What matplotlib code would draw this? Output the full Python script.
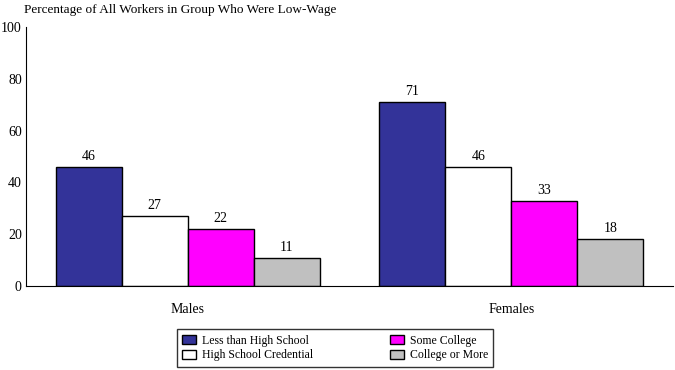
import matplotlib.pyplot as plt
import numpy as np
from matplotlib.patches import Patch

groups = ['Males', 'Females']
series = ['Less than High School', 'High School Credential', 'Some College', 'College or More']
values = [[46, 71], [27, 46], [22, 33], [11, 18]]
colors = ['#333399', '#FFFFFF', '#FF00FF', '#C0C0C0']

plt.rcParams['font.family'] = ['Liberation Serif', 'DejaVu Serif']
plt.rcParams['font.size'] = 9.5

fig = plt.figure(figsize=(6.75, 3.7), dpi=100)
ax = fig.add_axes([26 / 675, 1 - 286 / 370, 647 / 675, 259 / 370])

x = np.arange(len(groups))
w = 0.204
for i, (name, vals) in enumerate(zip(series, values)):
    pos = x + (i - 1.5) * w
    ax.bar(pos, vals, w, color=colors[i], edgecolor='black', linewidth=1, label=name)
    for p, v in zip(pos, vals):
        ax.text(p, v + 1.5, str(v), ha='center', va='bottom', fontsize=10)

ax.set_xlim(-0.5, 1.5)
ax.set_ylim(0, 100)
ax.set_yticks([0, 20, 40, 60, 80, 100])
ax.set_xticks(x)
ax.set_xticklabels(groups)
ax.tick_params(axis='both', length=0, labelsize=10)
ax.tick_params(axis='x', pad=12)
ax.tick_params(axis='y', pad=3)
ax.spines['top'].set_visible(False)
ax.spines['right'].set_visible(False)

fig.text(24 / 675, 1 - 10 / 370, 'Percentage of All Workers in Group Who Were Low-Wage', fontsize=9.5, va='center', ha='left')

handles = [Patch(facecolor=c, edgecolor='black', label=s) for c, s in zip(colors, series)]
leg = fig.legend(handles, series, ncol=2,
                 loc='center', bbox_to_anchor=(335 / 675, 1 - 348 / 370), frameon=True,
                 fancybox=False, edgecolor='black', fontsize=8.5, handlelength=1.2, handleheight=0.9,
                 columnspacing=6.5, labelspacing=0.25, borderpad=0.45, handletextpad=0.5)
leg.get_frame().set_linewidth(1)

fig.savefig('out.png', dpi=100)
